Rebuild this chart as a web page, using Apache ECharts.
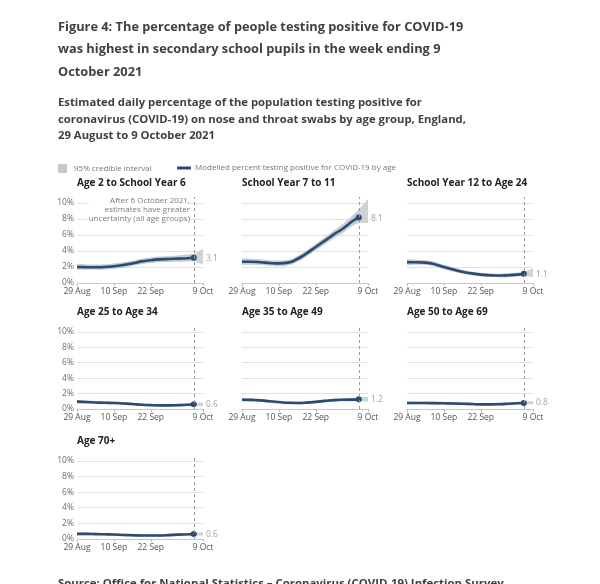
<!DOCTYPE html>
<html><head><meta charset="utf-8">
<script src="https://cdn.jsdelivr.net/npm/echarts@6/dist/echarts.min.js"></script>
<style>html,body{margin:0;padding:0;background:#fff}#c{width:600px;height:584px}</style>
</head><body><div id="c"></div>
<script>
// Days since 29 August 2021
const lineDays = [0,3,6,9,12,15,18,21,24,27,30,33,36,38];
const bandDays = [0,3,6,9,12,15,18,21,24,27,30,33,36,38,41];
const tickDays = [0,12,24,41];
const tickLabels = ['29 Aug','10 Sep','22 Sep','9 Oct'];
const yTicks = [0,2,4,6,8,10];
const uncertaintyDay = 38; // 6 October 2021
const lastDay = 41;        // 9 October 2021

const panelTitles = ['Age 2 to School Year 6','School Year 7 to 11','School Year 12 to Age 24',
  'Age 25 to Age 34','Age 35 to Age 49','Age 50 to Age 69','Age 70+'];
const endLabels = [3.1, 8.1, 1.1, 0.6, 1.2, 0.8, 0.6];

const y2y6Line = [2.0,1.98,1.97,2.0,2.1,2.25,2.45,2.7,2.85,2.95,3.0,3.05,3.1,3.15];
const y2y6Low  = [1.62,1.65,1.65,1.68,1.78,1.92,2.12,2.36,2.5,2.6,2.64,2.67,2.7,2.72,2.3];
const y2y6High = [2.4,2.32,2.3,2.33,2.43,2.58,2.78,3.04,3.2,3.3,3.37,3.45,3.55,3.65,4.25];

const y7y11Line = [2.65,2.65,2.6,2.5,2.45,2.55,3.0,3.7,4.5,5.3,6.1,6.85,7.75,8.2];
const y7y11Low  = [2.25,2.28,2.25,2.15,2.1,2.2,2.62,3.3,4.08,4.85,5.6,6.3,7.15,7.5,7.5];
const y7y11High = [3.05,3.02,2.95,2.85,2.8,2.9,3.38,4.1,4.92,5.75,6.6,7.45,8.45,9.2,10.5];

const y12a24Line = [2.6,2.6,2.55,2.35,2.0,1.7,1.4,1.2,1.05,0.97,0.93,0.97,1.05,1.15];
const y12a24Low  = [2.2,2.28,2.25,2.06,1.72,1.43,1.15,0.96,0.82,0.74,0.7,0.73,0.8,0.88,0.75];
const y12a24High = [3.0,2.92,2.85,2.64,2.28,1.97,1.65,1.44,1.28,1.2,1.16,1.21,1.3,1.42,1.8];

const a25a34Line = [0.95,0.9,0.85,0.8,0.78,0.72,0.65,0.55,0.5,0.47,0.47,0.5,0.55,0.6];
const a25a34Low  = [0.72,0.7,0.66,0.62,0.6,0.55,0.48,0.39,0.34,0.31,0.31,0.34,0.38,0.42,0.4];
const a25a34High = [1.18,1.1,1.04,0.98,0.96,0.89,0.82,0.71,0.66,0.63,0.63,0.66,0.72,0.78,0.85];

const a35a49Line = [1.2,1.18,1.12,1.0,0.9,0.8,0.78,0.82,0.92,1.05,1.15,1.2,1.22,1.25];
const a35a49Low  = [0.97,0.98,0.93,0.82,0.72,0.62,0.6,0.64,0.74,0.86,0.96,1.0,1.0,1.02,0.95];
const a35a49High = [1.43,1.38,1.31,1.18,1.08,0.98,0.96,1.0,1.1,1.24,1.34,1.4,1.44,1.48,1.55];

const a50a69Line = [0.78,0.78,0.77,0.76,0.74,0.72,0.68,0.64,0.6,0.6,0.63,0.68,0.74,0.78];
const a50a69Low  = [0.6,0.61,0.6,0.59,0.57,0.55,0.52,0.48,0.44,0.44,0.47,0.51,0.56,0.6,0.6];
const a50a69High = [0.96,0.95,0.94,0.93,0.91,0.89,0.84,0.8,0.76,0.76,0.79,0.85,0.92,0.96,1.05];

const a70Line = [0.65,0.65,0.63,0.6,0.57,0.52,0.48,0.45,0.44,0.45,0.5,0.56,0.6,0.63];
const a70Low  = [0.47,0.48,0.47,0.44,0.41,0.37,0.33,0.3,0.29,0.3,0.34,0.4,0.43,0.46,0.45];
const a70High = [0.83,0.82,0.79,0.76,0.73,0.67,0.63,0.6,0.59,0.6,0.66,0.72,0.77,0.8,0.85];

const panels = [
  [y2y6Line, y2y6Low, y2y6High],
  [y7y11Line, y7y11Low, y7y11High],
  [y12a24Line, y12a24Low, y12a24High],
  [a25a34Line, a25a34Low, a25a34High],
  [a35a49Line, a35a49Low, a35a49High],
  [a50a69Line, a50a69Low, a50a69High],
  [a70Line, a70Low, a70High]
];

// one category per day, 29 Aug .. 9 Oct
const dayCats = [];
for (let d = 0; d <= lastDay; d++) dayCats.push(String(d));
const isTick = (idx) => tickDays.indexOf(idx) >= 0;

const FONT = '"Open Sans", sans-serif';
const colLeft = [77, 242, 407];
const rowTop = [197, 326, 455];
const rowH = [86, 83, 84];
const plotW = 126;
const LINE_C = '#2c4b72';
const BAND_C = '#c4ccd7';
const WEDGE_C = '#d2d2d2';

const grids = [], xAxes = [], yAxes = [], series = [], titles = [];

titles.push({
  text: 'Figure 4: The percentage of people testing positive for COVID-19\nwas highest in secondary school pupils in the week ending 9\nOctober 2021',
  left: 58, top: 16, padding: 0,
  textStyle: {fontFamily: FONT, fontSize: 12.8, fontWeight: 'bold', color: '#414042', lineHeight: 22.5}
});
titles.push({
  text: 'Estimated daily percentage of the population testing positive for\ncoronavirus (COVID-19) on nose and throat swabs by age group, England,\n29 August to 9 October 2021',
  left: 58, top: 95, padding: 0,
  textStyle: {fontFamily: FONT, fontSize: 11.3, fontWeight: 'bold', color: '#414042', lineHeight: 16.5}
});
titles.push({
  text: 'Source: Office for National Statistics \u2013 Coronavirus (COVID-19) Infection Survey',
  left: 58, top: 578, padding: 0,
  textStyle: {fontFamily: FONT, fontSize: 11.4, fontWeight: 'bold', color: '#414042'}
});

panels.forEach((p, i) => {
  const row = Math.floor(i / 3), col = i % 3;
  const [ln, lo, hi] = p;
  grids.push({left: colLeft[col], top: rowTop[row], width: plotW, height: rowH[row]});
  titles.push({
    text: panelTitles[i], left: colLeft[col], top: rowTop[row] - 19, padding: 0,
    textStyle: {fontFamily: FONT, fontSize: 10, fontWeight: 'bold', color: '#222'}
  });
  xAxes.push({
    type: 'category', gridIndex: i, data: dayCats, boundaryGap: false,
    axisLine: {show: true, lineStyle: {color: '#c8c8c8'}},
    axisTick: {show: true, length: 3, interval: idx => isTick(idx), lineStyle: {color: '#bdbdbd'}},
    splitLine: {show: false},
    axisLabel: {
      interval: idx => isTick(idx), margin: 4, fontFamily: FONT, fontSize: 8.5, color: '#555',
      formatter: v => tickLabels[tickDays.indexOf(+v)]
    }
  });
  yAxes.push({
    type: 'value', gridIndex: i, min: 0, max: 10.75,
    axisLine: {show: false},
    axisTick: {show: false, customValues: yTicks},
    splitLine: {show: true, lineStyle: {color: '#e1e1e1', width: 1}},
    axisLabel: {
      show: col === 0, customValues: yTicks, margin: 3, fontFamily: FONT, fontSize: 8.5, color: '#6a6a6a',
      formatter: '{value}%'
    }
  });
  const pre = bandDays.slice(0, 14), post = bandDays.slice(13);
  const base = {type: 'line', xAxisIndex: i, yAxisIndex: i, smooth: true, symbol: 'none', silent: true,
    lineStyle: {width: 0, opacity: 0}};
  series.push(Object.assign({}, base, {name: 'lower bound', stack: 'pre' + i,
    data: pre.map((d, k) => [d, lo[k]])}));
  series.push(Object.assign({}, base, {name: '95% credible interval', stack: 'pre' + i,
    itemStyle: {color: '#c8c8c8'}, areaStyle: {color: BAND_C, opacity: 1},
    data: pre.map((d, k) => [d, +(hi[k] - lo[k]).toFixed(3)])}));
  series.push(Object.assign({}, base, {name: 'lower bound', stack: 'post' + i, smooth: false,
    data: post.map((d, k) => [d, lo[k + 13]])}));
  series.push(Object.assign({}, base, {name: '95% credible interval', stack: 'post' + i, smooth: false,
    itemStyle: {color: '#c8c8c8'}, areaStyle: {color: WEDGE_C, opacity: 1},
    data: post.map((d, k) => [d, +(hi[k + 13] - lo[k + 13]).toFixed(3)])}));
  series.push({
    name: 'Modelled percent testing positive for COVID-19 by age', type: 'line',
    xAxisIndex: i, yAxisIndex: i, smooth: true, silent: true,
    symbol: 'circle', showSymbol: true, showAllSymbol: true,
    symbolSize: (v, prm) => prm.dataIndex === lineDays.length - 1 ? 6 : 0,
    itemStyle: {color: LINE_C}, lineStyle: {color: LINE_C, width: 2.6},
    data: lineDays.map((d, k) => [d, ln[k]]),
    markLine: {
      silent: true, symbol: ['none', 'none'], label: {show: false},
      lineStyle: {type: [3, 3], color: '#9a9a9a', width: 1},
      data: [{xAxis: uncertaintyDay}]
    }
  });
  series.push({
    type: 'scatter', xAxisIndex: i, yAxisIndex: i, silent: true, symbolSize: 0,
    data: [[lastDay, endLabels[i]]],
    label: {show: true, position: 'right', distance: 3, fontFamily: FONT, fontSize: 8.5, color: '#888',
      formatter: prm => prm.value[1].toFixed(1)}
  });
});

const chart = echarts.init(document.getElementById('c'), null, {renderer: 'canvas'});
chart.setOption({
  animation: false,
  backgroundColor: '#fff',
  title: titles,
  legend: [
    {left: 58, top: 164, padding: 0, selectedMode: false, icon: 'rect', itemWidth: 9, itemHeight: 9,
      data: ['95% credible interval'],
      textStyle: {fontFamily: FONT, fontSize: 8, color: '#777', padding: [0, 0, 0, 2]}},
    {left: 177, top: 164, padding: 0, selectedMode: false, icon: 'rect', itemWidth: 14, itemHeight: 3,
      data: ['Modelled percent testing positive for COVID-19 by age'],
      textStyle: {fontFamily: FONT, fontSize: 8, color: '#777', padding: [0, 0, 0, -1]}}
  ],
  grid: grids, xAxis: xAxes, yAxis: yAxes, series: series,
  graphic: [{
    type: 'text', z: 100, x: 190, y: 196,
    style: {
      text: 'After 6 October 2021,\nestimates have greater\nuncertainty (all age groups)',
      align: 'right', verticalAlign: 'top', fill: '#7a7a7a',
      font: '8px "Open Sans", sans-serif', lineHeight: 9, backgroundColor: '#fff'
    }
  }]
});
</script></body></html>
